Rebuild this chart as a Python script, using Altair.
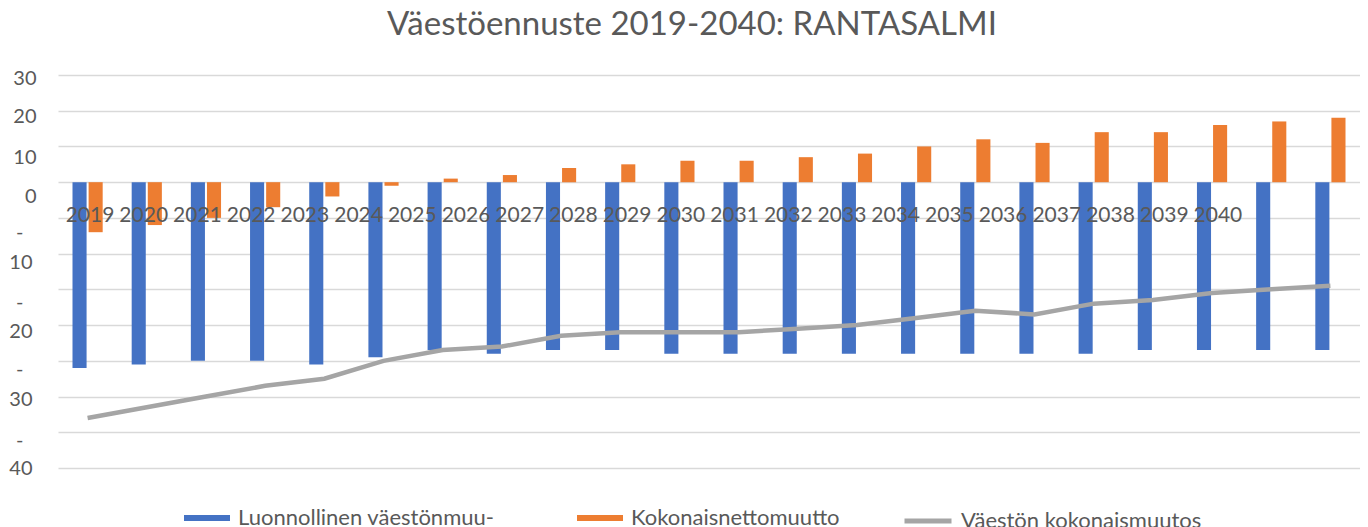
import altair as alt
import pandas as pd

# ---- data ----
years = ["2019", "2020", "2021", "2022", "2023", "2024", "2025", "2026", "2027", "2028", "2029",
         "2030", "2031", "2032", "2033", "2034", "2035", "2036", "2037", "2038", "2039", "2040"]
natural = [-52, -51, -50, -50, -51, -49, -47, -48, -47, -47, -48,
           -48, -48, -48, -48, -48, -48, -48, -47, -47, -47, -47]
migration = [-14, -12, -10, -7, -4, -1, 1, 2, 4, 5, 6,
             6, 7, 8, 10, 12, 11, 14, 14, 16, 17, 18]
total = [-66, -63, -60, -57, -55, -50, -47, -46, -43, -42, -42,
         -42, -41, -40, -38, -36, -37, -34, -33, -31, -30, -29]

series_names = ["Luonnollinen väestönmuu-", "Kokonaisnettomuutto", "Väestön kokonaismuutos"]
series_colors = ["#4472C4", "#ED7D31", "#A5A5A5"]

# Excel's (mis-spaced) category labels
year_label_text = years
year_label_pos = [int(y) for y in years]

# y axis ticks and their (wrapped) label texts as shown in the reference
y_tick_values = [30, 20, 10, 0, -10, -20, -30, -40, -50, -60, -70, -80]
y_tick_labels = ["30", "20", "10", "0", "-", "10", "-", "20", "-", "30", "-", "40"]

title_text = "Väestöennuste 2019-2040: RANTASALMI"

# ---- tables ----
bar_df = pd.DataFrame({
    "year": years * 2,
    "series": [series_names[0]] * len(years) + [series_names[1]] * len(years),
    "value": natural + migration,
})
line_df = pd.DataFrame({"year": years, "series": series_names[2], "value": total})
lab_df = pd.DataFrame({"pos": year_label_pos, "label": year_label_text})

FONT = "Lato"
GREY = "#595959"

label_expr = ""
for v, t in zip(y_tick_values, y_tick_labels):
    label_expr += f"datum.value == {v} ? '{t}' : "
label_expr += "''"

offsets = {30: 3, 20: 6, 10: 11, 0: 14, -10: 15, -20: 9, -30: 13, -40: 6, -50: 9, -60: 3, -70: 8, -80: 0}
label_offset = {"condition": [{"test": f"datum.value == {v}", "value": o} for v, o in offsets.items()],
                "value": 0}
label_padding = {"condition": [
    {"test": "datum.value < 0 && (datum.value % 20) != 0", "value": 35},
    {"test": "datum.value < 0", "value": 26}], "value": 22}

bar_symbol = "M-1,-0.13L1,-0.13L1,0.13L-1,0.13Z"
line_symbol = "M-1,0L1,0"

y_scale = alt.Scale(domain=[-80, 30], nice=False, zero=False)
y_axis = alt.Axis(values=y_tick_values, labelExpr=label_expr, title=None,
                  domain=False, ticks=False, grid=True, labelOverlap=False,
                  labelBound=False, labelFlush=False,
                  gridColor="#D9D9D9", gridWidth=1.3,
                  labelFont=FONT, labelFontSize=20, labelColor=GREY,
                  labelAlign="right", labelBaseline="middle",
                  labelOffset=label_offset, labelPadding=label_padding)

x_scale = alt.Scale(paddingInner=0.49, paddingOuter=0.245)

bars = alt.Chart(bar_df).mark_bar().encode(
    x=alt.X("year:N", scale=x_scale, axis=None, sort=None),
    xOffset=alt.XOffset("series:N", scale=alt.Scale(domain=series_names[:2], paddingInner=0.125, paddingOuter=0)),
    y=alt.Y("value:Q", scale=y_scale, axis=y_axis),
    color=alt.Color("series:N",
                    scale=alt.Scale(domain=series_names[:2], range=series_colors[:2]),
                    legend=alt.Legend(title=None, orient="none", legendX=126, legendY=420,
                                      direction="horizontal", symbolType=bar_symbol,
                                      symbolSize=2116, symbolStrokeWidth=0,
                                      labelFont=FONT, labelFontSize=22, labelColor=GREY,
                                      labelOffset=8, columnPadding=82, labelLimit=400)),
)

line = alt.Chart(line_df).mark_line(strokeWidth=4.5).encode(
    x=alt.X("year:N", scale=x_scale, axis=None, sort=None),
    y=alt.Y("value:Q", scale=y_scale, axis=y_axis),
    stroke=alt.Stroke("series:N",
                      scale=alt.Scale(domain=series_names[2:], range=series_colors[2:]),
                      legend=alt.Legend(title=None, orient="none", legendX=844, legendY=420,
                                        symbolType=line_symbol, symbolSize=2209,
                                        symbolStrokeWidth=5,
                                        labelFont=FONT, labelFontSize=22, labelColor=GREY,
                                        labelOffset=7, labelLimit=400)),
)

texts = alt.Chart(lab_df).mark_text(font=FONT, fontSize=21, color=GREY, baseline="middle", dy=34).encode(
    x=alt.X("pos:Q", scale=alt.Scale(domain=[2018.404, 2042.645], nice=False, zero=False), axis=None),
    y=alt.YDatum(0, scale=y_scale, axis=y_axis),
    text="label:N",
)

chart = alt.layer(alt.layer(bars, line), texts).resolve_scale(x="independent").properties(
    width=1302, height=393,
    padding={"left": 50, "top": 67, "right": 0, "bottom": 59},
    autosize=alt.AutoSizeParams(type="none"),
    title=alt.TitleParams(title_text, font=FONT, fontSize=33, fontWeight="normal", color=GREY,
                          anchor="middle", frame="group", dx=-17, offset=26),
).configure(background="white").configure_view(stroke=None).configure_axisY(
    labelOverlap=False, labelBound=False, labelFlush=False)

chart.save("out.html", embed_options={"renderer": "svg", "actions": False})
